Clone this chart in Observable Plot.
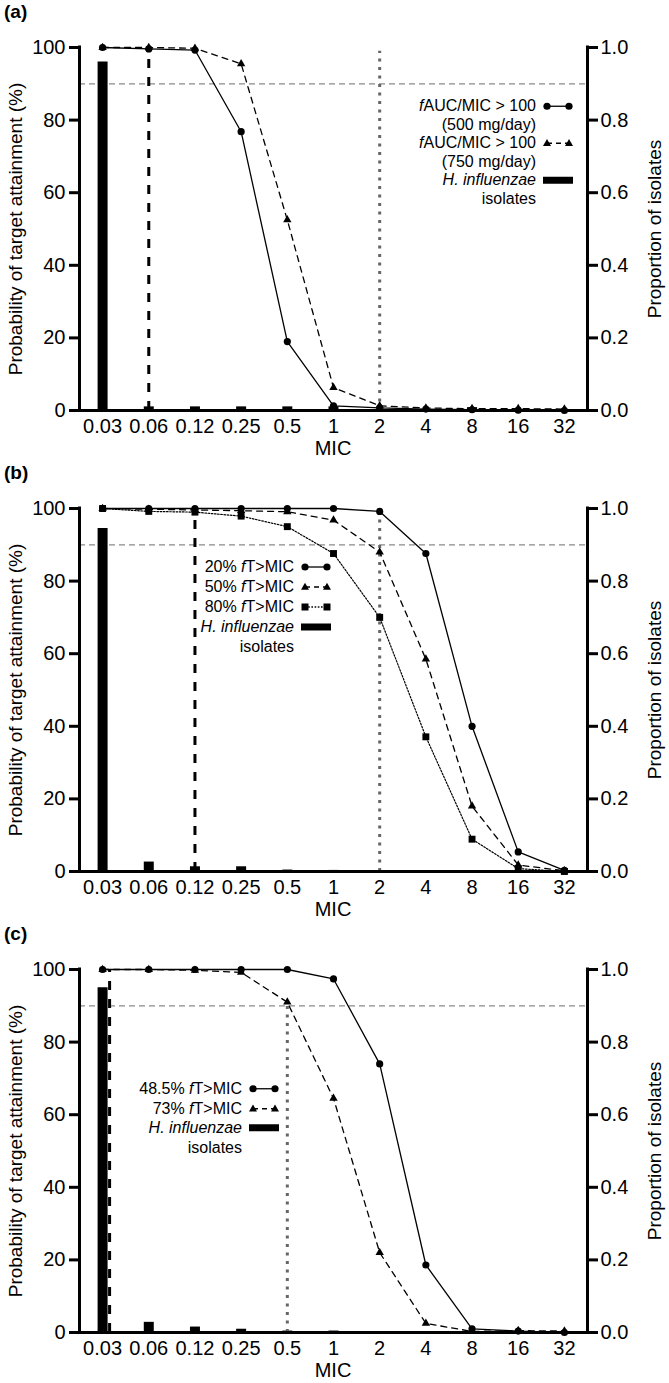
<!DOCTYPE html>
<html><head><meta charset="utf-8">
<script src="https://cdn.jsdelivr.net/npm/d3@7"></script>
<script src="https://cdn.jsdelivr.net/npm/@observablehq/plot@0.6"></script>
<style>
body{margin:0;background:#fff;font-family:"Liberation Sans",Arial,Helvetica,sans-serif;color:#000;}
.panel{position:relative;width:669px;height:461px;overflow:hidden;}
.panel svg.plot{position:absolute;left:0;top:0;}
.plabel{position:absolute;left:4px;top:0;font-weight:bold;font-size:19px;line-height:24px;}
.ytitle{position:absolute;white-space:nowrap;font-size:19px;line-height:22px;transform:translate(-50%,-50%) rotate(-90deg);}
.xtitle{position:absolute;white-space:nowrap;font-size:20px;line-height:22px;transform:translateX(-50%);}
.legend{position:absolute;font-size:16px;}
.legend .row{display:flex;justify-content:flex-end;align-items:center;white-space:nowrap;}
.legend svg{margin-left:7px;display:block;}
</style></head><body><div id="root"></div>
<script>
// ---------- data ----------
const mic = ["0.03","0.06","0.12","0.25","0.5","1","2","4","8","16","32"];
const yTicks = [0,20,40,60,80,100];

// panel (a)
const aAUC500 = [100, 99.6, 99.3, 76.8, 19, 1.3, 0.7, 0.4, 0.2, 0.1, 0];
const aAUC750 = [100, 100, 99.8, 95.5, 52.5, 6.3, 1.3, 0.7, 0.5, 0.5, 0.4];
const aIsolates = [0.96, 0.01, 0.01, 0.01, 0.01, 0.01, 0, 0, 0.008, 0, 0];

// panel (b)
const bT20 = [100, 100, 100, 100, 100, 100, 99.2, 87.6, 40, 5.4, 0.3];
const bT50 = [100, 99.8, 99.6, 99.4, 99.1, 96.8, 88, 58.5, 18, 1.8, 0.2];
const bT80 = [100, 99.2, 99.0, 97.9, 95.0, 87.6, 70, 37.1, 8.9, 0.8, 0];
const bIsolates = [0.945, 0.026, 0.013, 0.013, 0.004, 0.003, 0, 0, 0, 0, 0];

// panel (c)
const cT485 = [100, 100, 100, 100, 100, 97.4, 74, 18.6, 1, 0.4, 0];
const cT73 = [100, 100, 99.8, 99.2, 91, 64.5, 22, 2.5, 0.3, 0.5, 0.4];
const cIsolates = [0.95, 0.028, 0.015, 0.009, 0.004, 0.004, 0, 0, 0, 0, 0];

// ---------- layout ----------
const W = 669, H = 461, ML = 79, MR = 82, MT = 47, MB = 51;
const xDomain = [-0.5, mic.length - 0.5];

const panels = [
  {
    label: "(a)",
    isolates: aIsolates,
    series: [
      {values: aAUC500, symbol: "circle", r: 3.6, dash: null, width: 1.3},
      {values: aAUC750, symbol: "triangle", r: 3.1, dash: "6,5", width: 1.3}
    ],
    drawOrder: [1, 0],
    dashedBp: {mic: "0.06", top: 100, dx: 0},
    dottedBp: {mic: "2", top: 99},
    legend: {right: 96, top: 97, lh: 18.5, items: [
      {lines: ["<i>f</i>AUC/MIC &gt; 100", "(500 mg/day)"], kind: "circle"},
      {lines: ["<i>f</i>AUC/MIC &gt; 100", "(750 mg/day)"], kind: "triangle"},
      {lines: ["<i>H. influenzae</i>", "isolates"], kind: "bar"}
    ]}
  },
  {
    label: "(b)",
    isolates: bIsolates,
    series: [
      {values: bT20, symbol: "circle", r: 3.6, dash: null, width: 1.3},
      {values: bT50, symbol: "triangle", r: 3.1, dash: "6,5", width: 1.3},
      {values: bT80, symbol: "square", r: 3.9, dash: "1.6,1.6", width: 1.2}
    ],
    drawOrder: [2, 1, 0],
    dashedBp: {mic: "0.12", top: 100, dx: 0},
    dottedBp: {mic: "2", top: 99},
    legend: {right: 338, top: 96, lh: 20, items: [
      {lines: ["20% <i>f</i>T&gt;MIC"], kind: "circle"},
      {lines: ["50% <i>f</i>T&gt;MIC"], kind: "triangle"},
      {lines: ["80% <i>f</i>T&gt;MIC"], kind: "square"},
      {lines: ["<i>H. influenzae</i>", "isolates"], kind: "bar"}
    ]}
  },
  {
    label: "(c)",
    isolates: cIsolates,
    series: [
      {values: cT485, symbol: "circle", r: 3.6, dash: null, width: 1.3},
      {values: cT73, symbol: "triangle", r: 3.1, dash: "6,5", width: 1.3}
    ],
    drawOrder: [0, 1],
    dashedBp: {mic: "0.03", top: 100, dx: 7},
    dottedBp: {mic: "0.5", top: 90},
    legend: {right: 390, top: 157, lh: 19.5, items: [
      {lines: ["48.5% <i>f</i>T&gt;MIC"], kind: "circle"},
      {lines: ["73% <i>f</i>T&gt;MIC"], kind: "triangle"},
      {lines: ["<i>H. influenzae</i>", "isolates"], kind: "bar"}
    ]}
  }
];

const NS = "http://www.w3.org/2000/svg";
function sample(kind, lh) {
  const svg = document.createElementNS(NS, "svg");
  svg.setAttribute("width", 30); svg.setAttribute("height", lh);
  const cy = lh / 2;
  const add = (tag, attrs) => { const e = document.createElementNS(NS, tag); for (const k in attrs) e.setAttribute(k, attrs[k]); svg.appendChild(e); return e; };
  if (kind === "bar") {
    add("rect", {x: 0, y: cy - 3.5, width: 30, height: 7, fill: "#000"});
  } else if (kind) {
    const dash = kind === "circle" ? null : kind === "triangle" ? "5,4" : "1.6,1.6";
    const l = add("line", {x1: 4, x2: 26, y1: cy, y2: cy, stroke: "#000", "stroke-width": 1.3});
    if (dash) l.setAttribute("stroke-dasharray", dash);
    for (const x of [4, 26]) {
      if (kind === "circle") add("circle", {cx: x, cy, r: 3.6, fill: "#000"});
      else if (kind === "square") add("rect", {x: x - 3.5, y: cy - 3.5, width: 7, height: 7, fill: "#000"});
      else add("path", {d: `M${x},${cy - 4.2}L${x + 4},${cy + 2.8}L${x - 4},${cy + 2.8}Z`, fill: "#000"});
    }
  }
  return svg;
}

function legend(parent, cfg) {
  const box = document.createElement("div");
  box.className = "legend";
  box.style.right = cfg.right + "px";
  box.style.top = cfg.top + "px";
  box.style.lineHeight = cfg.lh + "px";
  for (const it of cfg.items) {
    it.lines.forEach((t, j) => {
      const row = document.createElement("div");
      row.className = "row"; row.style.height = cfg.lh + "px";
      const span = document.createElement("span"); span.innerHTML = t;
      row.appendChild(span);
      row.appendChild(sample(j === 0 ? it.kind : null, cfg.lh));
      box.appendChild(row);
    });
  }
  parent.appendChild(box);
}

const root = document.getElementById("root");
for (const p of panels) {
  const div = document.createElement("div");
  div.className = "panel";
  root.appendChild(div);

  const idx = (d, i) => i;
  const marks = [
    Plot.ruleY([90], {x1: xDomain[0], x2: xDomain[1], stroke: "#8a8a8a", strokeWidth: 1.2, strokeDasharray: "6,4"}),
    Plot.ruleX(p.isolates, {x: idx, y1: 0, y2: d => d * 100, stroke: "#000", strokeWidth: 10}),
    Plot.ruleX([p.dashedBp], {x: d => mic.indexOf(d.mic), y1: 0, y2: d => d.top, dx: p.dashedBp.dx, stroke: "#000", strokeWidth: 3, strokeDasharray: "9,9"}),
    Plot.ruleX([p.dottedBp], {x: d => mic.indexOf(d.mic), y1: 0, y2: d => d.top, stroke: "#666", strokeWidth: 3, strokeDasharray: "3,5.5"})
  ];
  for (const k of p.drawOrder) {
    const s = p.series[k];
    marks.push(Plot.line(s.values, {x: idx, y: d => d, stroke: "#000", strokeWidth: s.width, strokeDasharray: s.dash || undefined}));
  }
  for (const k of p.drawOrder) {
    const s = p.series[k];
    marks.push(Plot.dot(s.values, {x: idx, y: d => d, symbol: s.symbol, r: s.r, fill: "#000", stroke: "none"}));
  }
  marks.push(
    Plot.axisY({anchor: "left", ticks: yTicks, tickSize: 10, tickPadding: 4, strokeWidth: 3, label: null}),
    Plot.axisY({anchor: "right", ticks: yTicks, tickFormat: d => (d / 100).toFixed(1), tickSize: 10, tickPadding: 3, strokeWidth: 3, label: null}),
    Plot.axisX({ticks: d3.range(mic.length), tickFormat: i => mic[i], tickSize: 0, tickPadding: 8, label: null}),
    Plot.ruleX([xDomain[0], xDomain[1]], {x: d => d, y1: 0, y2: 100, stroke: "#000", strokeWidth: 3, strokeLinecap: "square"}),
    Plot.ruleY([0], {x1: xDomain[0], x2: xDomain[1], stroke: "#000", strokeWidth: 3, strokeLinecap: "square"})
  );

  const svg = Plot.plot({
    width: W, height: H,
    marginLeft: ML, marginRight: MR, marginTop: MT, marginBottom: MB,
    x: {type: "linear", domain: xDomain},
    y: {type: "linear", domain: [0, 100]},
    style: {fontFamily: '"Liberation Sans", Arial, Helvetica, sans-serif', fontSize: "20px", background: "transparent", color: "#000", overflow: "visible"},
    marks
  });
  svg.classList.add("plot");
  div.appendChild(svg);

  const lab = document.createElement("div"); lab.className = "plabel"; lab.textContent = p.label; div.appendChild(lab);
  const yt = document.createElement("div"); yt.className = "ytitle"; yt.textContent = "Probability of target attainment (%)";
  yt.style.left = "16px"; yt.style.top = ((MT + H - MB) / 2) + "px"; div.appendChild(yt);
  const yt2 = document.createElement("div"); yt2.className = "ytitle"; yt2.textContent = "Proportion of isolates";
  yt2.style.left = "655px"; yt2.style.top = ((MT + H - MB) / 2) + "px"; div.appendChild(yt2);
  const xt = document.createElement("div"); xt.className = "xtitle"; xt.textContent = "MIC";
  xt.style.left = ((ML + W - MR) / 2) + "px"; xt.style.top = "437px"; div.appendChild(xt);

  legend(div, p.legend);
}
</script></body></html>
